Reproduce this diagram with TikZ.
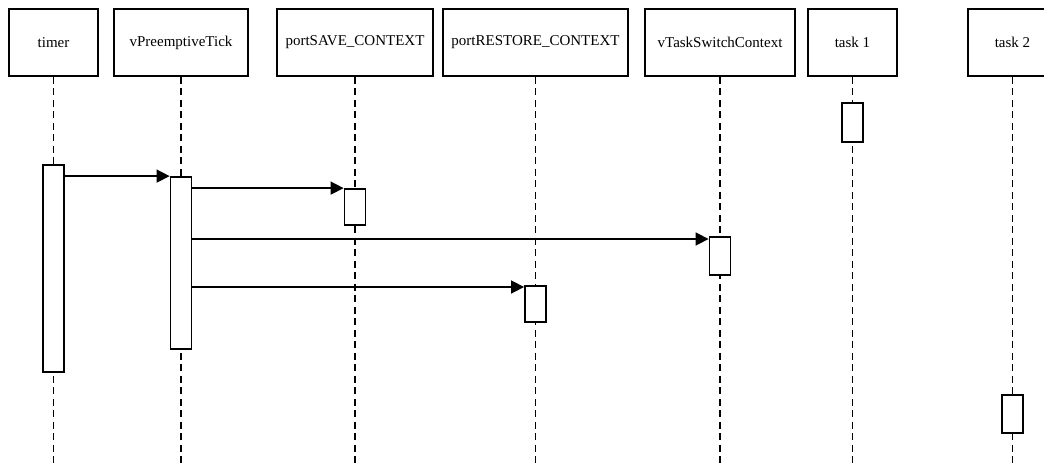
\documentclass[tikz,border=0pt]{standalone}
\usepackage{fontspec}
\setmainfont{Liberation Serif}
\usetikzlibrary{arrows.meta}
\begin{document}
\begin{tikzpicture}[x=1pt,y=-1pt,
  head/.style={draw,line width=1.8pt,fill=white,minimum height=67pt,inner sep=0pt,font=\fontsize{15}{17}\selectfont},
  bar/.style={draw,line width=1.8pt,fill=white,minimum width=21pt,inner sep=0pt},
  life/.style={line width=1.8pt,dash pattern=on 7pt off 4.5pt},
  msg/.style={line width=1.6pt,-{Triangle[length=13pt,width=13pt]}}]
\clip (0,0) rectangle (1044,466);
\useasboundingbox (0,0) rectangle (1044,466);
% headers
\node[head,minimum width=89pt] (timer) at (53.5,42.5) {timer};
\node[head,minimum width=134pt] (tick) at (181,42.5) {vPreemptiveTick};
\node[head,minimum width=156pt] (save) at (355,42.5) {portSAVE\_CONTEXT};
\node[head,minimum width=185pt] (restore) at (535.5,42.5) {portRESTORE\_CONTEXT};
\node[head,minimum width=150pt] (switch) at (720,42.5) {vTaskSwitchContext};
\node[head,minimum width=89pt] (task1) at (852.5,42.5) {task 1};
\node[head,minimum width=89pt] (task2) at (1012.5,42.5) {task 2};
% lifeline ends
\foreach \n in {timer,tick,save,restore,switch,task1,task2}
  \coordinate (\n end) at (\n.south |- 0,470);
\foreach \n in {timer,tick,save,restore,switch,task1,task2}
  \draw[life] (\n.south) -- (\n end);
% activation bars
\node[bar,minimum height=207pt] (timerbar) at (timer.south |- 0,268.5) {};
\node[bar,minimum height=172pt] (tickbar) at (tick.south |- 0,263) {};
\node[bar,minimum height=36pt] (savebar) at (save.south |- 0,207) {};
\node[bar,minimum height=38pt] (switchbar) at (switch.south |- 0,256) {};
\node[bar,minimum height=36pt] (restorebar) at (restore.south |- 0,304) {};
\node[bar,minimum height=39pt] (task1bar) at (task1.south |- 0,122.5) {};
\node[bar,minimum height=38pt] (task2bar) at (task2.south |- 0,414) {};
% messages
\draw[msg] (timerbar.east |- tickbar.north) -- (tickbar.north west);
\draw[msg] (tickbar.east |- savebar.north) -- (savebar.north west);
\draw[msg] (tickbar.east |- 0,239) coordinate (m3) -- (switchbar.west |- m3);
\draw[msg] (tickbar.east |- 0,287) coordinate (m4) -- (restorebar.west |- m4);
\end{tikzpicture}
\end{document}
